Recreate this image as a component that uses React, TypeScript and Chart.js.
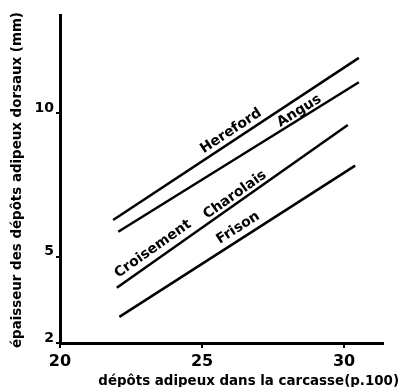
import React, { useEffect, useRef } from "react";
import { Chart, registerables } from "chart.js";

Chart.register(...registerables);

const seriesNames = ["Hereford", "Angus", "Croisement Charolais", "Frison"];
const xStart = [21.87, 22.05, 22.0, 22.09];
const xEnd = [30.52, 30.52, 30.13, 30.39];
const yStart = [6.28, 5.87, 3.92, 2.91];
const yEnd = [11.92, 11.07, 9.58, 8.17];

const labelTexts = ["Hereford", "Angus", "Croisement", "Charolais", "Frison"];
const labelSeries = [0, 1, 2, 2, 3];
const labelX = [26.02, 28.42, 23.27, 26.16, 26.27];
const labelY = [9.37, 10.07, 5.27, 7.15, 6.0];

const xTicks = [20, 25, 30];
const yTicks = [2, 5, 10];
const xTitle = "dépôts adipeux dans la carcasse(p.100)";
const yTitle = "épaisseur des dépôts adipeux dorsaux (mm)";

const FONT = "'DejaVu Sans', sans-serif";

const labelPlugin = {
  id: "lineLabels",
  afterDraw(chart: any) {
    const { ctx, scales } = chart;
    const xs = scales.x;
    const ys = scales.y;
    ctx.save();
    ctx.fillStyle = "#000";
    ctx.font = `bold 14px ${FONT}`;
    (ctx as any).letterSpacing = "0px";
    ctx.textAlign = "center";
    ctx.textBaseline = "middle";
    labelTexts.forEach((t, i) => {
      const s = labelSeries[i];
      const x1 = xs.getPixelForValue(xStart[s]);
      const y1 = ys.getPixelForValue(yStart[s]);
      const x2 = xs.getPixelForValue(xEnd[s]);
      const y2 = ys.getPixelForValue(yEnd[s]);
      const ang = Math.atan2(y2 - y1, x2 - x1);
      const px = xs.getPixelForValue(labelX[i]);
      const py = ys.getPixelForValue(labelY[i]);
      ctx.save();
      ctx.translate(px, py);
      ctx.rotate(ang);
      ctx.fillText(t, 0, 0);
      ctx.restore();
    });
    // axis titles
    ctx.font = `bold 13.4px ${FONT}`;
    (ctx as any).letterSpacing = "0px";
    ctx.textAlign = "right";
    ctx.textBaseline = "alphabetic";
    ctx.fillText(xTitle, chart.width - 4, 385);
    ctx.save();
    ctx.translate(21, (chart.chartArea.top + chart.chartArea.bottom) / 2 + 1);
    ctx.rotate(-Math.PI / 2);
    ctx.textAlign = "center";
    ctx.fillText(yTitle, 0, 0);
    ctx.restore();
    ctx.restore();
  },
};

export default function App() {
  const ref = useRef<HTMLCanvasElement | null>(null);
  useEffect(() => {
    if (!ref.current) return;
    const datasets = seriesNames.map((name, i) => ({
      label: name,
      data: [
        { x: xStart[i], y: yStart[i] },
        { x: xEnd[i], y: yEnd[i] },
      ],
      borderColor: "#000",
      borderWidth: 2.5,
      pointRadius: 0,
      fill: false,
    }));
    const chart = new Chart(ref.current, {
      type: "line",
      data: { datasets },
      plugins: [labelPlugin],
      options: {
        animation: false,
        responsive: false,
        maintainAspectRatio: false,
        layout: { padding: { left: 0, top: 15, right: 20, bottom: 0 } },
        plugins: { legend: { display: false }, tooltip: { enabled: false } },
        scales: {
          x: {
            type: "linear",
            min: 20,
            max: 31.37,
            afterBuildTicks: (s: any) => {
              s.ticks = xTicks.map((v) => ({ value: v }));
            },
            afterFit: (s: any) => {
              s.height = 44;
            },
            grid: {
              display: true,
              drawOnChartArea: false,
              drawTicks: true,
              tickLength: 5,
              color: "#000",
              lineWidth: 2,
            },
            border: { display: true, color: "#000", width: 3 },
            ticks: {
              color: "#000",
              font: { family: FONT, size: 16, weight: "bold" },
              padding: 4,
              maxRotation: 0,
              autoSkip: false,
            },
          },
          y: {
            type: "linear",
            min: 2,
            max: 13.41,
            afterBuildTicks: (s: any) => {
              s.ticks = yTicks.map((v) => ({ value: v }));
            },
            afterFit: (s: any) => {
              s.width = 60;
            },
            grid: {
              display: true,
              drawOnChartArea: false,
              drawTicks: true,
              tickLength: 4,
              color: "#000",
              lineWidth: 2,
            },
            border: { display: true, color: "#000", width: 3 },
            ticks: {
              color: "#000",
              font: { family: FONT, size: 14, weight: "bold" },
              padding: 2,
              labelOffset: -5,
              autoSkip: false,
            },
          },
        },
      },
    } as any);
    return () => chart.destroy();
  }, []);
  return (
    <div style={{ position: "absolute", left: 0, top: 0, width: 403, height: 387, background: "#fff" }}>
      <canvas ref={ref} width={403} height={387} style={{ width: 403, height: 387 }} />
    </div>
  );
}
